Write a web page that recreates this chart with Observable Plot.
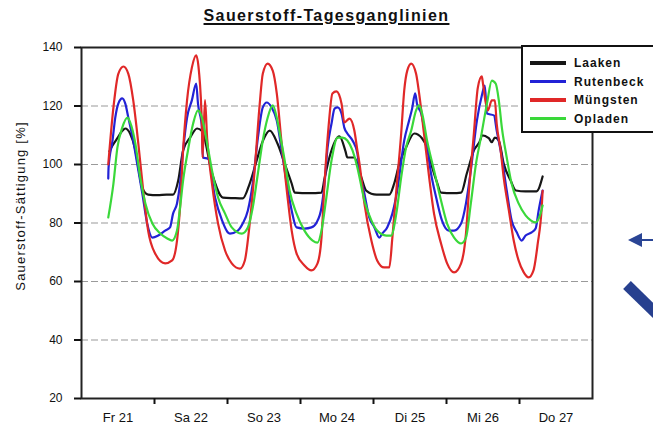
<!DOCTYPE html>
<html>
<head>
<meta charset="utf-8">
<script src="https://cdn.jsdelivr.net/npm/d3@7"></script>
<script src="https://cdn.jsdelivr.net/npm/@observablehq/plot@0.6"></script>
<style>
  html, body { margin: 0; padding: 0; background: #fff; overflow: hidden; }
  #chart { position: relative; width: 653px; height: 425px; overflow: hidden;
           font-family: "Liberation Sans", Arial, sans-serif; color: #111; }
  #chart > svg.plot { position: absolute; left: 0; top: 0; }
  #title { position: absolute; left: 0; top: 7px; width: 653px; text-align: center;
           font-weight: bold; font-size: 16px; letter-spacing: 1.4px;
           text-decoration: underline; text-decoration-thickness: 2px; text-underline-offset: 2px; }
  #ylabel { position: absolute; left: 20px; top: 206px; white-space: nowrap;
            transform: translate(-50%, -50%) rotate(-90deg);
            font-size: 13px; letter-spacing: 1.2px; }
  #legend { position: absolute; left: 521px; top: 45px; width: 160px; height: 84px;
            border: 2px solid #111; background: #fff; }
  .row { position: absolute; left: 0; height: 18px; width: 150px; }
  .row .sw { position: absolute; left: 7px; top: 7px; width: 36px; height: 3.5px; }
  .row .tx { position: absolute; left: 51px; top: 1px; font-size: 12px; font-weight: bold;
             letter-spacing: 1px; line-height: 16px; }
  #deco { position: absolute; left: 0; top: 0; }
</style>
</head>
<body>
<div id="chart"></div>
<script>
// Day labels on the time axis (hours counted from Fr 21, 00:00)
const dayLabels = ["Fr 21", "Sa 22", "So 23", "Mo 24", "Di 25", "Mi 26", "Do 27"];
const yTicks = [20, 40, 60, 80, 100, 120, 140];
const gridValues = [40, 60, 80, 100, 120];

const stations = ["Laaken", "Rutenbeck", "Müngsten", "Opladen"];
const stationColors = ["#161616", "#2222d6", "#e02828", "#3ad83a"];

// Oxygen saturation [%] per station: [hour, value]
const laaken = [
  [9.2,104.5],[10.2,106.5],[11.8,109],[13.4,111.5],[14.4,112.3],[16.0,110.5],[17.7,105],[18.7,99],[20.0,92],
  [21.9,89.7],[25,89.5],[28,89.7],[30.1,89.7],[31.8,94.5],[33.4,104.8],[35.7,109.2],[38.0,112.3],
  [39.6,111.5],[42.9,97],[46.5,88.7],[50,88.5],[53.0,88.4],[55.3,93.5],[57.6,101.4],[59.6,108],
  [61.9,111.6],[64.5,107],[66.8,100.3],[69.1,93.5],[70.1,90.4],[75,90.2],[78.9,90.4],[79.9,95.2],
  [81.5,102.4],[84.8,109.6],[86.8,104.5],[87.4,102.4],[89.7,102.4],[92.0,95.6],[93.6,91.1],[97,89.7],
  [101.2,89.7],[102.8,93.5],[104.5,100.3],[106.7,105.8],[109.4,110.6],[112.0,108.9],[113.6,105.8],
  [115.3,99],[116.9,93.8],[118.2,90.4],[122,90.2],[124.8,90.4],[126.7,97],[129.0,104.8],[131.3,108.9],
  [131.6,110],[133.9,109],[134.9,107.6],[135.9,109.2],[137.2,108.2],[138.8,100.3],[141.1,94.5],
  [142.8,91.1],[146,90.8],[149.6,90.8],[151.6,95.9]
];
const rutenbeck = [
  [8.8,95.2],[8.9,99],[10.2,108.2],[11.1,116],[12.1,120.8],[13.4,122.6],[14.4,120.8],[15.4,116],
  [17.0,108.2],[18.3,100.3],[20.0,90.1],[21.6,79.8],[23.3,75],[25.2,75.7],[27.5,77.4],[29.1,78.5],
  [30.1,83.2],[31.4,86.7],[32.4,93.5],[33.4,104.8],[34.7,116],[36.3,122],[37.7,127.7],[38.3,120.8],
  [39.6,112.6],[39.9,102.4],[41.6,102],[43.9,88.7],[46.2,80.9],[48.1,76.8],[48.8,76.4],[51.4,77.4],
  [53.0,79.8],[54.7,84.3],[56.3,93.5],[58.0,109.2],[59.6,119.5],[60.9,121.2],[62.5,119.5],[64.2,115],
  [65.8,104.8],[67.5,93.5],[69.1,84.3],[70.7,78.5],[73.3,78.1],[75.6,78.5],[77.3,80.2],[78.9,85.3],
  [79.9,93.5],[80.9,105.8],[82.2,114],[83.2,119.1],[84.2,119.5],[85.5,117.4],[86.4,112.6],[87.4,110.6],
  [89.1,108.2],[90.7,103.8],[91.4,98],[93.0,90.1],[94.6,81.9],[96.3,78.5],[97.9,75],[98.9,76.4],
  [100.5,78.5],[102.2,83.2],[103.8,91.1],[106.1,108.2],[107.7,115],[108.7,119.1],[109.7,124.3],
  [110.3,120.8],[111.7,117.4],[113.3,108.2],[114.9,97],[116.6,88.7],[118.5,80.9],[120.8,77.4],
  [122.5,77.4],[124.8,79.8],[126.4,86.7],[128.0,98],[130.0,115],[131.6,123.5],[132.6,127],[133.3,117.4],
  [135.6,116.8],[136.5,111.6],[138.2,102.4],[139.8,91.1],[141.4,80.9],[143.1,76.8],[144.7,74],
  [146.0,75.7],[148.0,76.8],[149.3,78.1],[150.3,84.3],[151.6,91.1]
];
const muengsten = [
  [8.8,100],[10.5,119.5],[12.1,131],[13.8,133.5],[15.4,131],[17.0,122],[18.7,107],[20.3,91],[21.9,77.4],
  [24.2,69.6],[27.5,66.2],[29.8,67.2],[31.4,74],[32.4,85.3],[33.4,104.8],[34.7,121.9],[36.3,133.2],
  [37.7,137.3],[38.6,132],[39.6,112.6],[39.8,102.4],[40.6,122],[41.3,109],[42.9,93.5],[44.9,79.8],
  [47.2,70.6],[49.4,66.2],[52.1,64.4],[53.7,67.2],[55.3,79.8],[57.0,99],[58.6,120.8],[59.6,131],
  [61.2,134.5],[62.9,132],[64.2,124.3],[65.8,107.2],[67.5,91.1],[69.1,77.4],[70.7,69.6],[73.3,65.5],
  [75.6,63.8],[77.6,66.2],[78.9,75],[79.9,93.5],[81.2,112.6],[82.5,124.3],[83.8,125],[85.5,120.8],
  [86.4,114.4],[88.1,115.7],[89.7,111.6],[90.7,104.8],[91.4,100.3],[93.0,86.7],[95.3,74],[97.2,67.2],
  [99.5,64.8],[101.2,64.8],[102.2,75],[103.5,91.1],[105.1,110.6],[106.1,125.3],[107.1,132.1],
  [108.4,134.5],[110.0,131],[111.0,124.3],[112.6,110.6],[114.3,95.6],[115.9,83.2],[118.2,73],
  [120.2,66.2],[122.5,63.1],[124.8,66.2],[126.4,76.4],[127.4,91.1],[129.0,110.6],[130.3,126.3],
  [131.6,130.1],[132.0,127.6],[132.9,121.2],[133.6,118.5],[134.9,121.9],[135.9,121.9],[136.5,114],
  [137.8,104.8],[138.8,95.6],[140.5,84.3],[142.1,74],[143.7,67.2],[145.4,63.1],[147.0,61.4],
  [148.6,63.8],[150.0,73],[151.3,85.3],[151.6,91]
];
const opladen = [
  [8.8,81.9],[10.5,93.5],[11.8,105.8],[13.4,112.6],[15.1,116],[16.0,114.4],[17.7,107.2],[19.3,95.6],
  [21.0,86.7],[23.3,79.8],[25.9,76.4],[28.2,74.7],[29.8,74],[31.4,77.4],[32.4,85.3],[33.4,94.5],
  [35.0,104.8],[36.7,114],[38.3,118.5],[39.6,116],[41.3,107.2],[42.9,98],[44.9,88.7],[47.2,83.2],
  [49.4,78.5],[52.7,76.4],[54.7,78.5],[56.3,85.3],[58.0,97],[59.6,108.2],[61.2,116],[62.9,120.2],
  [64.2,116],[65.2,110.6],[66.8,101.4],[68.4,91.1],[70.7,83.2],[73.3,77.4],[76.0,74],[77.6,73.3],
  [78.9,77.4],[80.5,88.7],[82.2,101.4],[84.2,109.2],[85.8,109.2],[87.4,108.2],[89.1,104.8],[90.7,99],
  [91.4,95.6],[93.0,87.7],[95.3,80.9],[97.2,77.4],[100.2,75.7],[101.8,75.7],[103.5,83.2],[105.1,95.6],
  [106.7,105.8],[108.4,111.6],[110.0,118.5],[111.0,120.2],[112.0,117.4],[113.6,108.2],[115.9,98],
  [118.2,87.7],[120.2,79.8],[122.5,75],[124.8,73],[126.4,75],[128.0,86.7],[129.7,100.3],[131.3,109.2],
  [133.3,120.8],[134.9,128.7],[136.2,127.6],[137.2,121.9],[138.2,112.6],[139.8,102.4],[141.4,93.5],
  [143.7,86.7],[146.0,82.6],[147.7,80.9],[149.3,80.2],[150.9,83.2],[151.6,86]
];

const seriesByStation = [laaken, rutenbeck, muengsten, opladen];
const rows = seriesByStation.flatMap((pts, k) =>
  pts.map(([hour, value]) => ({station: stations[k], hour, value}))
);

const dayBounds = d3.range(24, 168, 24);
const dayMiddles = dayLabels.map((_, i) => i * 24 + 12);

const chart = Plot.plot({
  width: 653,
  height: 425,
  marginTop: 47,
  marginLeft: 81,
  marginRight: 61,
  marginBottom: 27,
  style: {fontFamily: "'Liberation Sans', Arial, sans-serif", fontSize: "12px", color: "#111", background: "transparent"},
  x: {domain: [0, 168], label: null},
  y: {domain: [20, 140], label: null},
  color: {domain: stations, range: stationColors},
  marks: [
    Plot.ruleY(gridValues, {stroke: "#9a9a9a", strokeWidth: 1.2, strokeDasharray: "7,3"}),
    Plot.line(rows, {x: "hour", y: "value", z: "station", stroke: "station", strokeWidth: 2.2, curve: "monotone-x"}),
    Plot.frame({stroke: "#222", strokeWidth: 2}),
    Plot.axisY(yTicks, {tickSize: 7, tickPadding: 12, strokeWidth: 2, fontSize: 12, label: null}),
    Plot.axisX(dayBounds, {tickSize: 6, strokeWidth: 2, tickFormat: () => "", label: null}),
    Plot.axisX(dayMiddles, {tickSize: 0, tickPadding: 14, fontSize: 13, tickFormat: d => dayLabels[Math.floor(d / 24)], label: null})
  ]
});
chart.classList.add("plot");

const root = document.getElementById("chart");
root.appendChild(chart);

const title = document.createElement("div");
title.id = "title";
title.textContent = "Sauerstoff-Tagesganglinien";
root.appendChild(title);

const ylabel = document.createElement("div");
ylabel.id = "ylabel";
ylabel.textContent = "Sauerstoff-Sättigung [%]";
root.appendChild(ylabel);

// Legend box
const legend = document.createElement("div");
legend.id = "legend";
stations.forEach((name, i) => {
  const row = document.createElement("div");
  row.className = "row";
  row.style.top = (7 + i * 18.5) + "px";
  const sw = document.createElement("div");
  sw.className = "sw";
  sw.style.background = stationColors[i];
  const tx = document.createElement("div");
  tx.className = "tx";
  tx.textContent = name;
  row.appendChild(sw);
  row.appendChild(tx);
  legend.appendChild(row);
});
root.appendChild(legend);

// Blue pointer arrows on the right margin
const deco = d3.create("svg").attr("id", "deco").attr("width", 653).attr("height", 425);
deco.append("line").attr("x1", 640).attr("y1", 240).attr("x2", 660).attr("y2", 240)
  .attr("stroke", "#2a4595").attr("stroke-width", 2);
deco.append("polygon").attr("points", "628,240 642,233 642,247").attr("fill", "#2a4595");
deco.append("line").attr("x1", 627).attr("y1", 285).attr("x2", 665).attr("y2", 322)
  .attr("stroke", "#27408f").attr("stroke-width", 11);
root.appendChild(deco.node());
</script>
</body>
</html>
